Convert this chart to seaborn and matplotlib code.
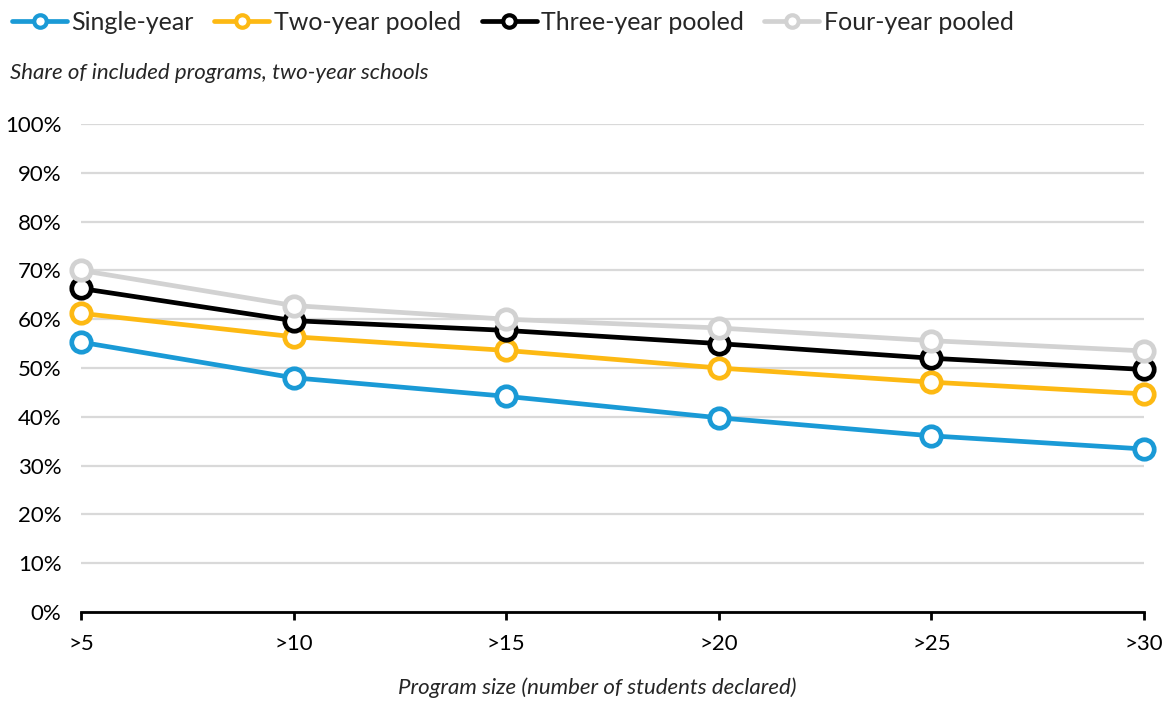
import matplotlib
matplotlib.use("Agg")
import matplotlib.pyplot as plt
import seaborn as sns
import pandas as pd
from matplotlib.ticker import PercentFormatter

# Program-size thresholds and share of programs included at each threshold
categories = [">5", ">10", ">15", ">20", ">25", ">30"]
single_year = [0.553, 0.480, 0.442, 0.398, 0.361, 0.334]
two_year_pooled = [0.612, 0.564, 0.536, 0.500, 0.471, 0.447]
three_year_pooled = [0.663, 0.597, 0.577, 0.550, 0.520, 0.497]
four_year_pooled = [0.700, 0.628, 0.600, 0.582, 0.556, 0.535]

series_names = ["Single-year", "Two-year pooled", "Three-year pooled", "Four-year pooled"]
series_values = [single_year, two_year_pooled, three_year_pooled, four_year_pooled]
colors = ["#1a9ad6", "#fdb913", "#000000", "#d2d2d2"]

rows = []
for name, vals in zip(series_names, series_values):
    for i, (cat, v) in enumerate(zip(categories, vals)):
        rows.append({"pos": i, "category": cat, "share": v, "series": name})
df = pd.DataFrame(rows)

sns.set_theme(style="white")
plt.rcParams["font.family"] = ["Lato", "DejaVu Sans"]

fig = plt.figure(figsize=(11.68, 7.02), dpi=100)
W, H = 1168, 702
ax = fig.add_axes([81 / W, (H - 612) / H, (1144 - 81) / W, (612 - 124) / H])

sns.lineplot(
    data=df, x="pos", y="share", hue="series", hue_order=series_names,
    palette=colors, ax=ax, linewidth=3.4, marker="o", markersize=14,
    markerfacecolor="white", markeredgewidth=3.4, legend=True, zorder=3,
)
for line in ax.lines:
    line.set_clip_on(False)
    line.set_markeredgecolor(line.get_color())

ax.set_xlim(0, len(categories) - 1)
ax.set_ylim(0, 1)
ax.set_yticks([i / 10 for i in range(11)])
ax.yaxis.set_major_formatter(PercentFormatter(1.0, decimals=0))
ax.set_xticks(range(len(categories)))
ax.set_xticklabels(categories)
ax.grid(axis="y", color="#d9d9d9", linewidth=1.6)
ax.set_axisbelow(True)
for s in ["top", "right", "left"]:
    ax.spines[s].set_visible(False)
ax.spines["bottom"].set_color("black")
ax.spines["bottom"].set_linewidth(2)
ax.tick_params(axis="x", direction="out", length=6, width=2, color="black",
               pad=10, labelsize=16, labelcolor="black", bottom=True)
ax.tick_params(axis="y", length=0, pad=14, labelsize=16, labelcolor="black")
ax.set_xlabel("")
ax.set_ylabel("")

handles, labels = ax.get_legend_handles_labels()
ax.legend_.remove()
leg = fig.legend(
    handles, labels, loc="upper left", bbox_to_anchor=(2 / W, 1 - 1 / H),
    ncol=4, frameon=False, fontsize=18, handlelength=2.2, handletextpad=0.18,
    columnspacing=0.82, borderaxespad=0,
)
for h in leg.legend_handles:
    h.set_markersize(9)
    h.set_markeredgewidth(3)
    h.set_linewidth(3.4)

fig.text(10 / W, 1 - 73 / H, "Share of included programs, two-year schools",
         fontsize=16, style="italic", ha="left", va="center")
fig.text(597 / W, 1 - 688 / H, "Program size (number of students declared)",
         fontsize=16, style="italic", ha="center", va="center")

fig.savefig("out.png", dpi=100)
